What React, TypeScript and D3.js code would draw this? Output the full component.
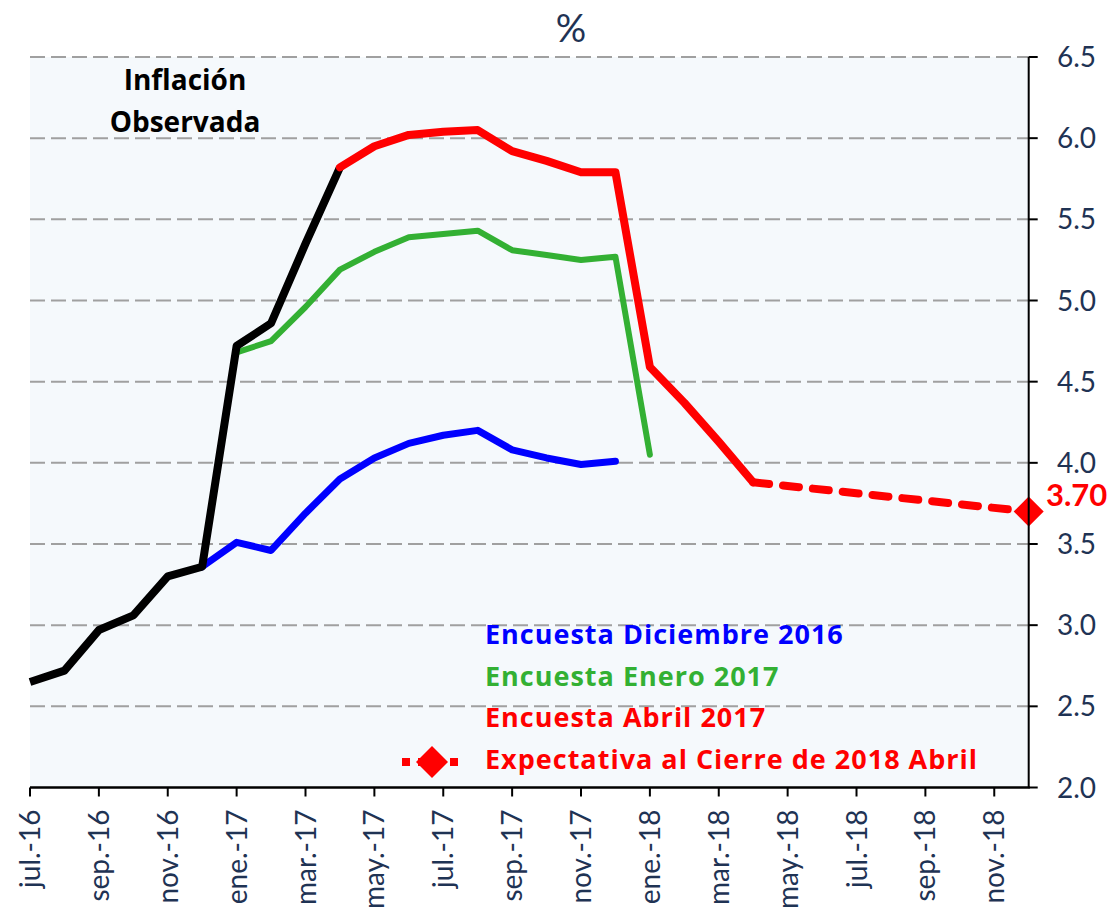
import React from "react";
import * as d3 from "d3";

// Month index 0 = jul-16 ... 29 = dic-18
const xTickLabels = ["jul.-16","sep.-16","nov.-16","ene.-17","mar.-17","may.-17","jul.-17","sep.-17","nov.-17","ene.-18","mar.-18","may.-18","jul.-18","sep.-18","nov.-18"];
const xTickIndex = [0,2,4,6,8,10,12,14,16,18,20,22,24,26,28];
const yTicks = [2.0,2.5,3.0,3.5,4.0,4.5,5.0,5.5,6.0,6.5];

const observedStart = 0;
const observed = [2.65, 2.72, 2.97, 3.06, 3.30, 3.36, 4.72, 4.86, 5.35, 5.82];

const surveyDecStart = 5;
const surveyDec = [3.36, 3.51, 3.46, 3.69, 3.90, 4.03, 4.12, 4.17, 4.20, 4.08, 4.03, 3.99, 4.01];

const surveyJanStart = 6;
const surveyJan = [4.68, 4.75, 4.96, 5.19, 5.30, 5.39, 5.41, 5.43, 5.31, 5.28, 5.25, 5.27, 4.05];

const surveyAprStart = 9;
const surveyApr = [5.82, 5.95, 6.02, 6.04, 6.05, 5.92, 5.86, 5.79, 5.79, 4.59, 4.37, 4.13, 3.88];

const expectIdx = [21, 29];
const expectVals = [3.88, 3.70];

const legendItems = [
  { label: "Encuesta Diciembre 2016", color: "#0000FF" },
  { label: "Encuesta Enero 2017", color: "#33B033" },
  { label: "Encuesta Abril 2017", color: "#FF0000" },
  { label: "Expectativa al Cierre de 2018 Abril", color: "#FF0000" },
];

const W = 1115, H = 912;
const left = 30, right = 1028.7, top = 57, bottom = 787.5;
const FONT = "Lato, 'Open Sans', sans-serif";
const BOLD_FONT = "'Open Sans', Lato, sans-serif";
const AXIS_COLOR = "#1F3354";

export default function App() {
  const x = d3.scaleLinear().domain([0, 29]).range([left, right]);
  const y = d3.scaleLinear().domain([2, 6.5]).range([bottom, top]);

  const line = d3.line<[number, number]>().x(d => x(d[0])).y(d => y(d[1]));
  const toPts = (start: number, vals: number[]) => vals.map((v, i) => [start + i, v] as [number, number]);

  const diamond = (cx: number, cy: number, r: number) =>
    `M${cx},${cy - r}L${cx + r},${cy}L${cx},${cy + r}L${cx - r},${cy}Z`;

  const ex = x(expectIdx[1]);
  const ey = y(expectVals[1]);

  return (
    <div style={{ position: "absolute", left: 0, top: 0 }}>
      <svg width={W} height={H} style={{ display: "block", background: "#fff" }}>
        <rect x={left} y={top} width={right - left} height={bottom - top} fill="#F5F9FC" />
        {yTicks.filter(t => t > 2).map(t => (
          <line key={t} x1={left} x2={right} y1={y(t)} y2={y(t)} stroke="#A0A0A0" strokeWidth={2} strokeDasharray="15 6" />
        ))}
        {/* title */}
        <text x={571} y={42} textAnchor="middle" fontFamily={FONT} fontSize={38} fill={AXIS_COLOR}>%</text>
        <text x={185} y={90} textAnchor="middle" fontFamily={BOLD_FONT} fontSize={28} fontWeight="bold" fill="#000">Inflación</text>
        <text x={185} y={132} textAnchor="middle" fontFamily={BOLD_FONT} fontSize={28} fontWeight="bold" fill="#000">Observada</text>

        {/* series */}
        <path d={line(toPts(surveyDecStart, surveyDec)) || ""} fill="none" stroke="#0000FF" strokeWidth={7} strokeLinejoin="round" strokeLinecap="round" />
        <path d={line(toPts(surveyJanStart, surveyJan)) || ""} fill="none" stroke="#33B033" strokeWidth={6} strokeLinejoin="round" strokeLinecap="round" />
        <path d={line(toPts(observedStart, observed)) || ""} fill="none" stroke="#000" strokeWidth={8} strokeLinejoin="round" strokeLinecap="butt" />
        <path d={line(toPts(surveyAprStart, surveyApr)) || ""} fill="none" stroke="#FF0000" strokeWidth={8} strokeLinejoin="round" strokeLinecap="round" />
        <path d={line(expectIdx.map((d, i) => [d, expectVals[i]] as [number, number])) || ""} fill="none" stroke="#FF0000" strokeWidth={8} strokeDasharray="16 14" strokeLinecap="round" />
        <path d={diamond(ex, ey, 15)} fill="#FF0000" />
        <text x={1046} y={506} fontFamily={FONT} fontSize={31} fontWeight="bold" fill="#FF0000">3.70</text>

        {/* legend */}
        {legendItems.map((it, i) => (
          <text key={it.label} x={485} y={644 + i * 41.5} fontFamily={BOLD_FONT} fontSize={27} letterSpacing={1} fontWeight="bold" fill={it.color}>{it.label}</text>
        ))}
        <line x1={402} x2={462} y1={762} y2={762} stroke="#FF0000" strokeWidth={8} strokeDasharray="8 8" />
        <path d={diamond(432, 762, 16)} fill="#FF0000" />

        {/* axes */}
        <line x1={left} x2={right + 1} y1={bottom} y2={bottom} stroke="#000" strokeWidth={2.5} />
        <line x1={right} x2={right} y1={top} y2={bottom} stroke="#000" strokeWidth={2} />
        {yTicks.map(t => (
          <g key={t}>
            <line x1={right} x2={right + 9} y1={y(t)} y2={y(t)} stroke="#000" strokeWidth={2} />
            <text x={1057} y={y(t) + 10} fontFamily={FONT} fontSize={28} fill={AXIS_COLOR}>{t.toFixed(1)}</text>
          </g>
        ))}
        {xTickIndex.map((ti, i) => (
          <g key={ti}>
            <line x1={x(ti)} x2={x(ti)} y1={bottom} y2={bottom + 9} stroke="#000" strokeWidth={2} />
            <text transform={`translate(${x(ti) + 10},${bottom + 22}) rotate(-90)`} textAnchor="end" fontFamily={FONT} fontSize={28} fill={AXIS_COLOR}>{xTickLabels[i]}</text>
          </g>
        ))}
      </svg>
    </div>
  );
}
